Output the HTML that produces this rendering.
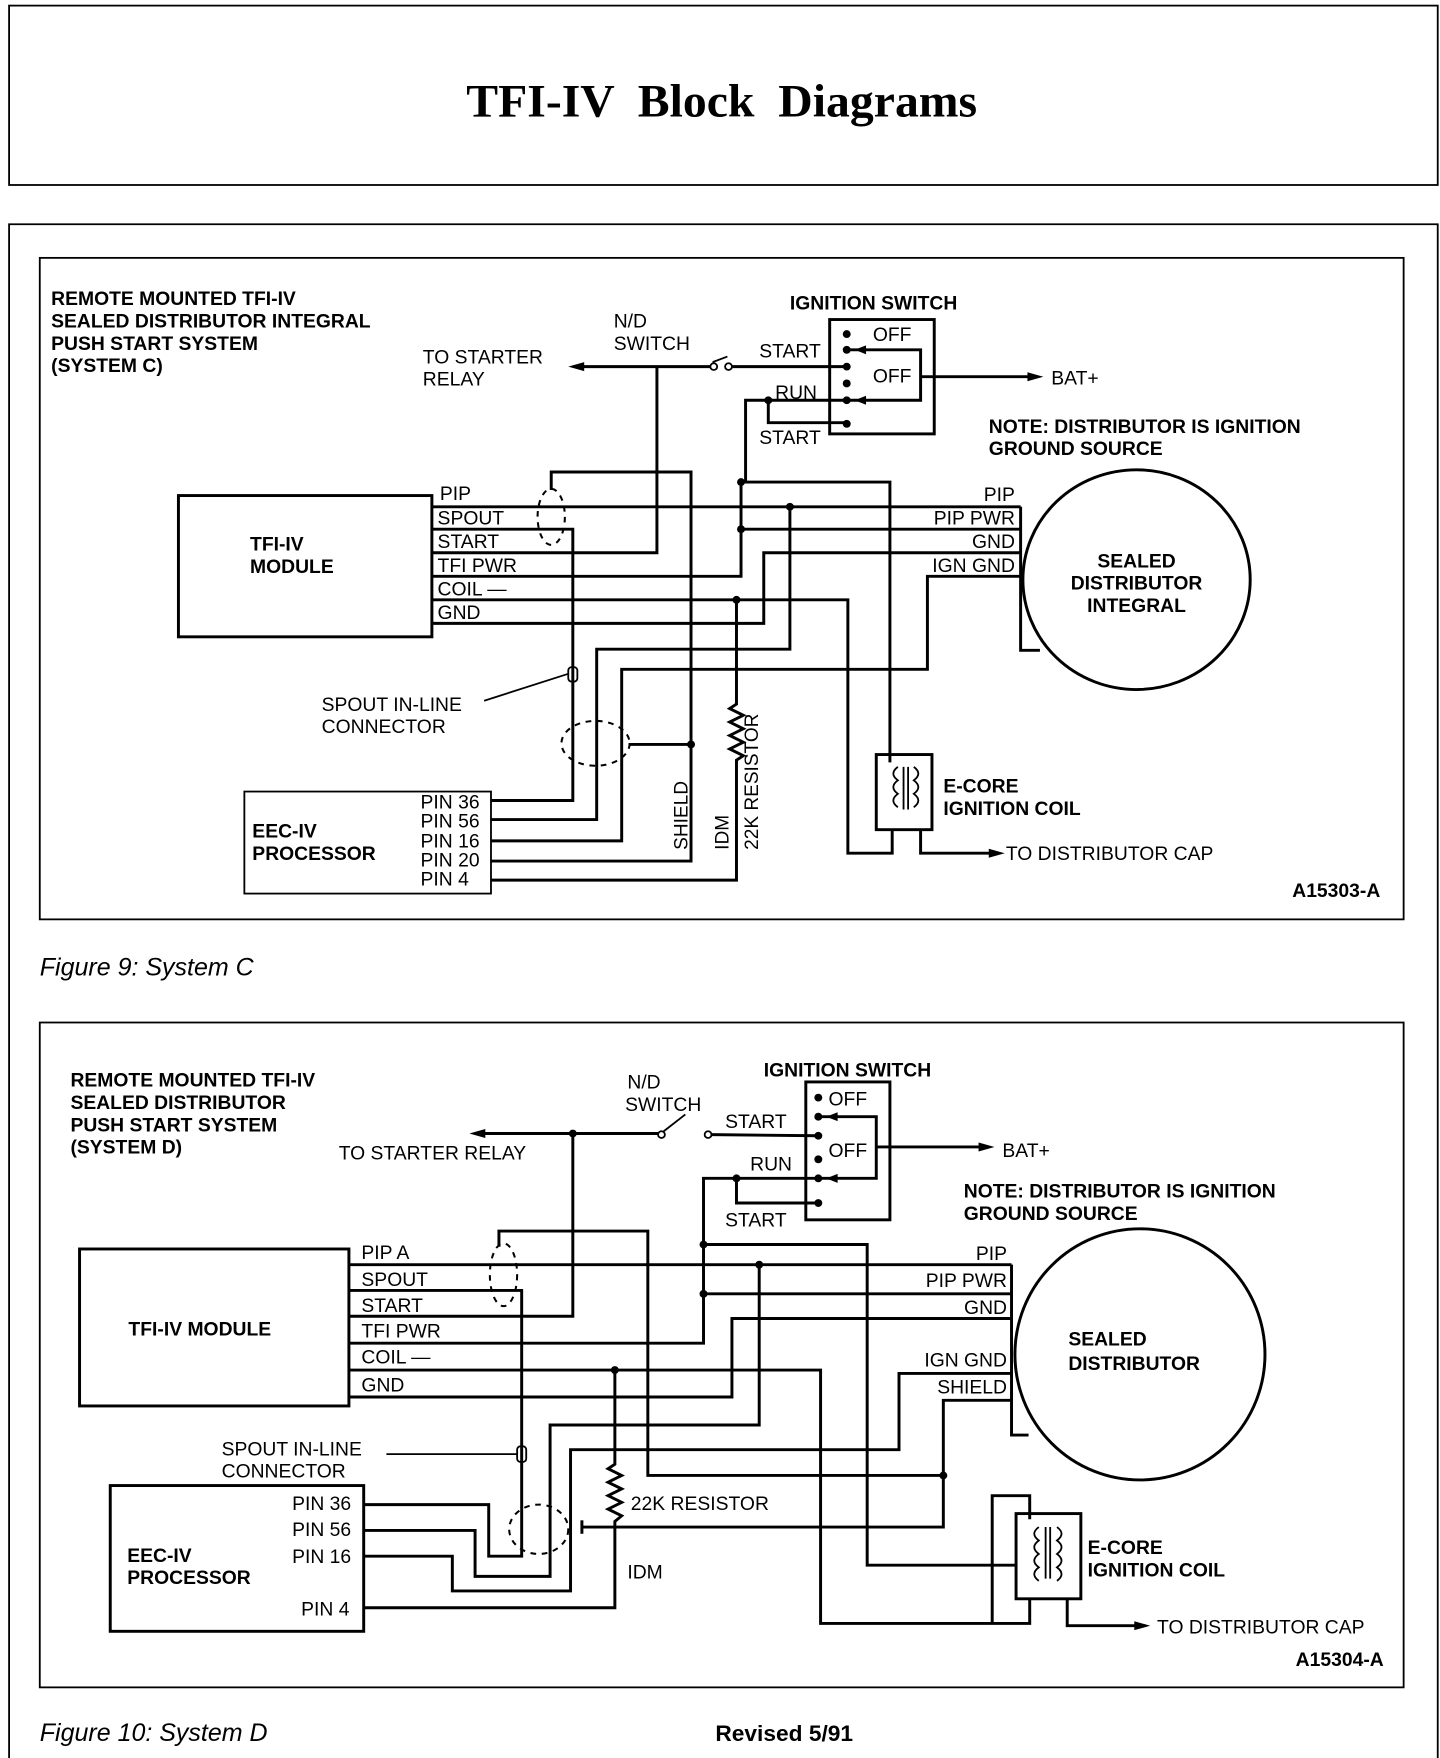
<!DOCTYPE html>
<html><head><meta charset="utf-8"><style>
html,body{margin:0;padding:0;background:#fff;}
svg{display:block;}
text{font-family:"Liberation Sans",sans-serif;font-size:17px;fill:#000;}
.b{font-weight:bold;}
.w{stroke:#000;stroke-width:2.6;fill:none;}
.t{stroke:#000;stroke-width:1.6;fill:none;}
.d{stroke:#000;stroke-width:1.8;fill:none;stroke-dasharray:5 5;}
</style></head><body>
<svg width="1440" height="1758" viewBox="0 0 1267 1568" preserveAspectRatio="none" xmlns="http://www.w3.org/2000/svg">
<rect x="0" y="0" width="1267" height="1568" fill="#fff"/>
<!-- title -->
<rect x="8" y="5" width="1257" height="160" class="t"/>
<text x="635" y="104" text-anchor="middle" style="font-family:'Liberation Serif',serif;font-size:42px;font-weight:bold;white-space:pre;" xml:space="preserve">TFI-IV  Block  Diagrams</text>
<!-- outer frame -->
<polyline points="8,1568 8,200 1265,200 1265,1568" class="t"/>

<!-- ================= FIGURE 9 ================= -->
<rect x="35" y="230" width="1200" height="590" class="t"/>
<g class="b">
<text x="45" y="272">REMOTE MOUNTED TFI-IV</text>
<text x="45" y="292">SEALED DISTRIBUTOR INTEGRAL</text>
<text x="45" y="312">PUSH START SYSTEM</text>
<text x="45" y="332">(SYSTEM C)</text>
<text x="695" y="276">IGNITION SWITCH</text>
<text x="870" y="386">NOTE: DISTRIBUTOR IS IGNITION</text>
<text x="870" y="406">GROUND SOURCE</text>
<text x="220" y="491">TFI-IV</text>
<text x="220" y="511">MODULE</text>
<text x="1000" y="506" text-anchor="middle">SEALED</text>
<text x="1000" y="526" text-anchor="middle">DISTRIBUTOR</text>
<text x="1000" y="546" text-anchor="middle">INTEGRAL</text>
<text x="222" y="747">EEC-IV</text>
<text x="222" y="767">PROCESSOR</text>
<text x="830" y="707">E-CORE</text>
<text x="830" y="727">IGNITION COIL</text>
<text x="1137" y="800">A15303-A</text>
</g>
<text x="540" y="292">N/D</text>
<text x="540" y="312">SWITCH</text>
<text x="372" y="324">TO STARTER</text>
<text x="372" y="344">RELAY</text>
<text x="668" y="319">START</text>
<text x="682" y="356">RUN</text>
<text x="668" y="396">START</text>
<text x="768" y="304">OFF</text>
<text x="768" y="341">OFF</text>
<text x="925" y="343">BAT+</text>
<text x="387" y="446">PIP</text>
<text x="385" y="468">SPOUT</text>
<text x="385" y="489">START</text>
<text x="385" y="510">TFI PWR</text>
<text x="385" y="531">COIL —</text>
<text x="385" y="552">GND</text>
<text x="893" y="447" text-anchor="end">PIP</text>
<text x="893" y="468" text-anchor="end">PIP PWR</text>
<text x="893" y="489" text-anchor="end">GND</text>
<text x="893" y="510" text-anchor="end">IGN GND</text>
<text x="283" y="634">SPOUT IN-LINE</text>
<text x="283" y="654">CONNECTOR</text>
<text x="370" y="721">PIN 36</text>
<text x="370" y="738">PIN 56</text>
<text x="370" y="756">PIN 16</text>
<text x="370" y="773">PIN 20</text>
<text x="370" y="790">PIN 4</text>
<text x="885" y="767">TO DISTRIBUTOR CAP</text>
<text transform="translate(605,758) rotate(-90)">SHIELD</text>
<text transform="translate(641,758) rotate(-90)">IDM</text>
<text transform="translate(667,758) rotate(-90)">22K RESISTOR</text>

<rect x="157" y="442" width="223" height="126" class="w"/>
<rect x="215" y="706" width="217" height="91" class="t"/>
<ellipse cx="1000" cy="517" rx="100" ry="98" class="w"/>
<!-- ignition switch -->
<rect x="730" y="285" width="92" height="102" class="w"/>
<g fill="#000"><circle cx="745" cy="298" r="3.5"/><circle cx="745" cy="312" r="3.5"/><circle cx="745" cy="327" r="3.5"/><circle cx="745" cy="342" r="3.5"/><circle cx="745" cy="357" r="3.5"/><circle cx="745" cy="378" r="3.5"/></g>
<polyline points="745,312 810,312 810,357 745,357" class="w"/>
<path d="M752,312 l10,-4 v8z M752,357 l10,-4 v8z" fill="#000"/>
<line x1="810" y1="336" x2="905" y2="336" class="w"/>
<path d="M918,336 l-14,-4 v8z" fill="#000"/>
<!-- starter -->
<line x1="512" y1="327" x2="625" y2="327" class="w"/>
<path d="M500,327 l14,-4 v8z" fill="#000"/>
<circle cx="628" cy="327" r="3" class="t"/><circle cx="641" cy="327" r="3" class="t"/>
<line x1="627" y1="323" x2="640" y2="318" class="t"/>
<line x1="644" y1="327" x2="745" y2="327" class="w"/>
<polyline points="380,493 578,493 578,327" class="w"/>
<!-- run -->
<polyline points="745,357 656,357 656,430" class="w"/>
<polyline points="676,357 676,377 745,377" class="w"/>
<circle cx="676" cy="357" r="3.5" fill="#000"/>
<!-- module wires -->
<line x1="380" y1="452" x2="898" y2="452" class="w"/>
<polyline points="380,472 504,472 504,714 432,714" class="w"/>
<polyline points="380,514 652,514 652,430 783,430 783,680" class="w"/>
<line x1="652" y1="472" x2="898" y2="472" class="w"/>
<circle cx="652" cy="430" r="3.5" fill="#000"/><circle cx="652" cy="472" r="3.5" fill="#000"/>
<polyline points="380,535 746,535 746,761 785,761 785,740" class="w"/>
<polyline points="380,556 672,556 672,493 898,493" class="w"/>
<polyline points="695,452 695,579 525,579 525,731 432,731" class="w"/>
<circle cx="695" cy="452" r="3.5" fill="#000"/>
<polyline points="898,514 816,514 816,597 547,597 547,750 432,750" class="w"/>
<polyline points="485,437 485,421 608,421 608,768 432,768" class="w"/>
<line x1="553" y1="664" x2="608" y2="664" class="w"/>
<circle cx="608" cy="664" r="3.5" fill="#000"/>
<circle cx="648" cy="535" r="3.5" fill="#000"/>
<polyline points="648,535 648,628 642,632 654,638 642,644 654,650 642,656 654,662 642,668 654,674 648,678 648,785 432,785" class="w"/>
<polyline points="898,452 898,580 915,580" class="w"/>
<ellipse cx="485" cy="461" rx="12" ry="25" class="d"/>
<ellipse cx="524" cy="663" rx="30" ry="20" class="d"/>
<rect x="500" y="595" width="8" height="13" rx="3" class="t" fill="#fff"/>
<line x1="426" y1="625" x2="500" y2="601" class="t"/>
<!-- coil -->
<rect x="771" y="673" width="49" height="67" class="w"/>
<path d="M790,684 q-8,6 0,12 q-8,6 0,12 q-8,6 0,12 M804,684 q8,6 0,12 q8,6 0,12 q8,6 0,12 M795,684 v38 M799,684 v38" class="t"/>
<polyline points="810,740 810,761 872,761" class="w"/>
<path d="M884,761 l-14,-4 v8z" fill="#000"/>
<text x="35" y="870" style="font-style:italic;font-size:22px;">Figure 9: System C</text>

<!-- ================= FIGURE 10 ================= -->
<rect x="35" y="912" width="1200" height="593" class="t"/>
<g class="b">
<text x="62" y="969">REMOTE MOUNTED TFI-IV</text>
<text x="62" y="989">SEALED DISTRIBUTOR</text>
<text x="62" y="1009">PUSH START SYSTEM</text>
<text x="62" y="1029">(SYSTEM D)</text>
<text x="672" y="960">IGNITION SWITCH</text>
<text x="848" y="1068">NOTE: DISTRIBUTOR IS IGNITION</text>
<text x="848" y="1088">GROUND SOURCE</text>
<text x="113" y="1191">TFI-IV MODULE</text>
<text x="940" y="1200">SEALED</text>
<text x="940" y="1222">DISTRIBUTOR</text>
<text x="112" y="1393">EEC-IV</text>
<text x="112" y="1413">PROCESSOR</text>
<text x="957" y="1386">E-CORE</text>
<text x="957" y="1406">IGNITION COIL</text>
<text x="1140" y="1486">A15304-A</text>
</g>
<text x="552" y="971">N/D</text>
<text x="550" y="991">SWITCH</text>
<text x="298" y="1034">TO STARTER RELAY</text>
<text x="638" y="1006">START</text>
<text x="660" y="1044">RUN</text>
<text x="638" y="1094">START</text>
<text x="729" y="986">OFF</text>
<text x="729" y="1032">OFF</text>
<text x="882" y="1032">BAT+</text>
<text x="318" y="1123">PIP A</text>
<text x="318" y="1147">SPOUT</text>
<text x="318" y="1170">START</text>
<text x="318" y="1193">TFI PWR</text>
<text x="318" y="1216">COIL —</text>
<text x="318" y="1241">GND</text>
<text x="886" y="1124" text-anchor="end">PIP</text>
<text x="886" y="1148" text-anchor="end">PIP PWR</text>
<text x="886" y="1172" text-anchor="end">GND</text>
<text x="886" y="1219" text-anchor="end">IGN GND</text>
<text x="886" y="1243" text-anchor="end">SHIELD</text>
<text x="195" y="1298">SPOUT IN-LINE</text>
<text x="195" y="1318">CONNECTOR</text>
<text x="257" y="1347">PIN 36</text>
<text x="257" y="1370">PIN 56</text>
<text x="257" y="1394">PIN 16</text>
<text x="265" y="1441">PIN 4</text>
<text x="555" y="1347">22K RESISTOR</text>
<text x="552" y="1408">IDM</text>
<text x="1018" y="1457">TO DISTRIBUTOR CAP</text>

<rect x="70" y="1114" width="237" height="140" class="w"/>
<rect x="97" y="1325" width="223" height="130" class="w"/>
<ellipse cx="1003" cy="1208" rx="110" ry="112" class="w"/>
<!-- ign switch -->
<rect x="709" y="965" width="74" height="123" class="w"/>
<g fill="#000"><circle cx="720" cy="979" r="3.5"/><circle cx="720" cy="996" r="3.5"/><circle cx="720" cy="1013" r="3.5"/><circle cx="720" cy="1034" r="3.5"/><circle cx="720" cy="1051" r="3.5"/><circle cx="720" cy="1073" r="3.5"/></g>
<polyline points="720,996 771,996 771,1051 720,1051" class="w"/>
<path d="M727,996 l10,-4 v8z M727,1051 l10,-4 v8z" fill="#000"/>
<line x1="771" y1="1023" x2="862" y2="1023" class="w"/>
<path d="M875,1023 l-14,-4 v8z" fill="#000"/>
<!-- starter -->
<line x1="426" y1="1011" x2="579" y2="1011" class="w"/>
<path d="M413,1011 l14,-4 v8z" fill="#000"/>
<circle cx="582" cy="1012" r="3" class="t"/><circle cx="623" cy="1012" r="3" class="t"/>
<line x1="584" y1="1009" x2="603" y2="994" class="t"/>
<line x1="626" y1="1012" x2="720" y2="1013" class="w"/>
<circle cx="504" cy="1011" r="3.5" fill="#000"/>
<polyline points="504,1011 504,1174 307,1174" class="w"/>
<!-- run -->
<polyline points="720,1051 619,1051 619,1198 307,1198" class="w"/>
<polyline points="648,1051 648,1073 720,1073" class="w"/>
<circle cx="648" cy="1051" r="3.5" fill="#000"/>
<circle cx="619" cy="1110" r="3.5" fill="#000"/><circle cx="619" cy="1154" r="3.5" fill="#000"/>
<line x1="619" y1="1154" x2="890" y2="1154" class="w"/>
<polyline points="619,1110 763,1110 763,1396 894,1396" class="w"/>
<!-- module wires -->
<line x1="307" y1="1128" x2="890" y2="1128" class="w"/>
<polyline points="307,1151 459,1151 459,1388 430,1388 430,1342 320,1342" class="w"/>
<polyline points="668,1128 668,1271 484,1271 484,1406 418,1406 418,1365 320,1365" class="w"/>
<circle cx="668" cy="1128" r="3.5" fill="#000"/>
<polyline points="890,1225 791,1225 791,1293 502,1293 502,1419 398,1419 398,1388 320,1388" class="w"/>
<polyline points="307,1222 722,1222 722,1448 906,1448 906,1426" class="w"/>
<polyline points="307,1246 644,1246 644,1176 890,1176" class="w"/>
<circle cx="541" cy="1222" r="3.5" fill="#000"/>
<polyline points="541,1222 541,1306 535,1310 547,1316 535,1322 547,1328 535,1334 547,1340 535,1346 547,1352 541,1357 541,1434 320,1434" class="w"/>
<polyline points="439,1112 439,1098 570,1098 570,1316 830,1316 830,1249 890,1249" class="w"/>
<circle cx="830" cy="1316" r="3.5" fill="#000"/>
<polyline points="830,1316 830,1362 512,1362" class="w"/>
<line x1="512" y1="1356" x2="512" y2="1368" class="w"/>
<polyline points="890,1128 890,1280 905,1280" class="w"/>
<ellipse cx="443" cy="1137" rx="12" ry="28" class="d"/>
<ellipse cx="474" cy="1364" rx="26" ry="22" class="d"/>
<rect x="455" y="1290" width="8" height="14" rx="3" class="t" fill="#fff"/>
<line x1="340" y1="1297" x2="455" y2="1297" class="t"/>
<!-- coil -->
<polyline points="873,1448 873,1334 906,1334 906,1355" class="w"/>
<rect x="894" y="1350" width="57" height="76" class="w"/>
<path d="M914,1362 q-8,6 0,12 q-8,6 0,12 q-8,6 0,12 q-8,6 0,12 M930,1362 q8,6 0,12 q8,6 0,12 q8,6 0,12 q8,6 0,12 M920,1362 v46 M924,1362 v46" class="t"/>
<polyline points="939,1426 939,1450 1000,1450" class="w"/>
<path d="M1012,1450 l-14,-4 v8z" fill="#000"/>
<text x="35" y="1553" style="font-style:italic;font-size:22px;">Figure 10: System D</text>
<text x="690" y="1553" text-anchor="middle" class="b" style="font-size:20px;">Revised 5/91</text>
</svg>
</body></html>
